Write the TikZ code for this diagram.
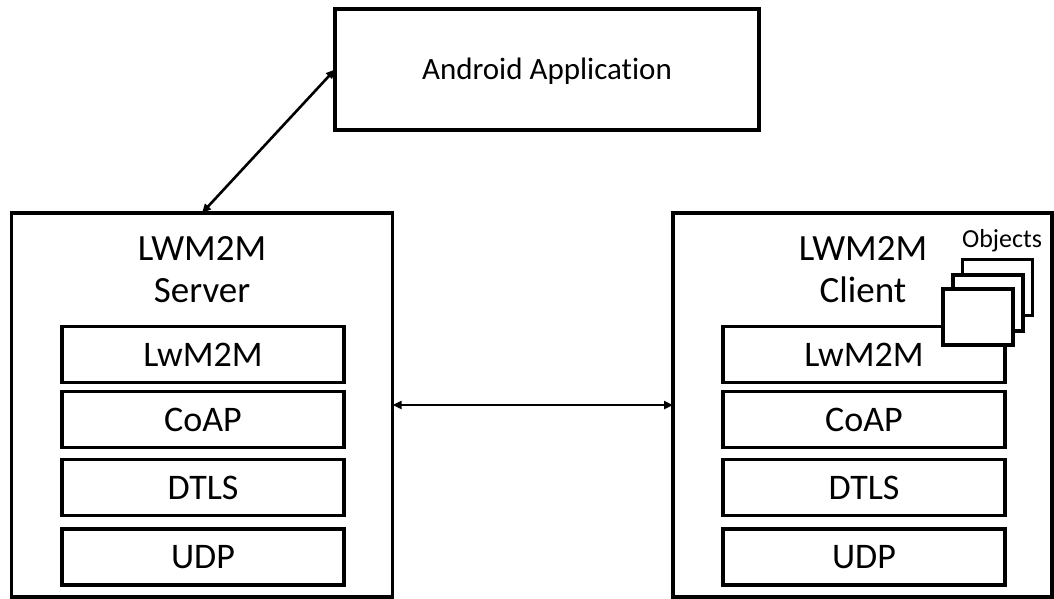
\documentclass[tikz,border=0pt]{standalone}
\usepackage{fontspec}
\setmainfont{Carlito}[Ligatures=NoCommon]
\usetikzlibrary{arrows.meta}
\begin{document}
\begin{tikzpicture}[x=1pt,y=-1pt,
  frame/.style={draw=black,line width=3.3pt,fill=white,inner sep=0pt,outer sep=0pt},
  layerbox/.style={frame,minimum width=282pt,minimum height=56pt,
    font=\fontsize{36}{40}\selectfont},
  objbox/.style={frame,minimum width=70pt,minimum height=56pt},
  title/.style={anchor=base,inner sep=0pt,font=\fontsize{37}{40}\selectfont},
  link/.style={line width=2.6pt,{Triangle[length=9pt,width=8pt]}-{Triangle[length=9pt,width=8pt]}}]
\useasboundingbox (0,0) rectangle (1054,599);

% application on top
\node[frame,minimum width=424pt,minimum height=121pt] (app) at (547,69.5) {};
\node[anchor=base,inner sep=0pt,font=\fontsize{31}{34}\selectfont] (apptext) at (547,80) {Android Application};

% server and client frames
\node[frame,minimum width=381pt,minimum height=384pt] (server) at (202,405) {};
\node[frame,minimum width=379pt,minimum height=384pt] (client) at (862.5,405) {};

% titles
\node[title] (st1) at (202,260) {LWM2M};
\node[title] (st2) at (202,302) {Server};
\node[title] (ct1) at (863,260) {LWM2M};
\node[title] (ct2) at (863,302) {Client};

% protocol stacks
\node[layerbox] (slwm) at (203,354.5) {LwM2M};
\node[layerbox] (scoap) at (203,419.5) {CoAP};
\node[layerbox] (sdtls) at (203,487.5) {DTLS};
\node[layerbox] (sudp) at (203,557) {UDP};

\node[layerbox] (clwm) at (864,354.5) {LwM2M};
\node[layerbox] (ccoap) at (864,419.5) {CoAP};
\node[layerbox] (cdtls) at (864,487.5) {DTLS};
\node[layerbox] (cudp) at (864,557) {UDP};

% stacked objects on the client
\node[objbox] (obj3) at (997.5,287.5) {};
\node[objbox] (obj2) at (988,303) {};
\node[objbox] (obj1) at (978,317) {};
\node[anchor=base,inner sep=0pt,font=\fontsize{26}{28}\selectfont] (objtext) at (1002,247) {Objects};

% connections
\draw[link] (server.north) -- (app.west);
\draw[link] (server.east) -- (client.west);
\end{tikzpicture}
\end{document}
